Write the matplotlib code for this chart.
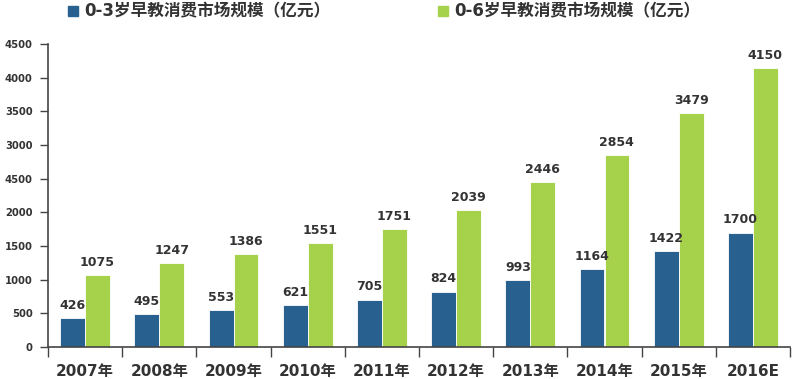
import matplotlib.pyplot as plt
from matplotlib.patches import Rectangle
import numpy as np

plt.rcParams['font.family'] = ['DejaVu Sans', 'Noto Sans CJK SC']

years = ['2007年', '2008年', '2009年', '2010年', '2011年', '2012年', '2013年', '2014年', '2015年', '2016E']
market_0_3 = [426, 495, 553, 621, 705, 824, 993, 1164, 1422, 1700]
market_0_6 = [1075, 1247, 1386, 1551, 1751, 2039, 2446, 2854, 3479, 4150]
yticks = [0, 500, 1000, 1500, 2000, 2500, 3000, 3500, 4000, 4500]
ytick_labels = ['0', '500', '1000', '1500', '2000', '4500', '3000', '3500', '4000', '4500']
series_names = ['0-3岁早教消费市场规模（亿元）', '0-6岁早教消费市场规模（亿元）']

blue = '#28618f'
green = '#a6d14b'
text_color = '#333333'

fig = plt.figure(figsize=(7.92, 3.79), dpi=100)
ax = fig.add_axes([48 / 792, 32 / 379, 742 / 792, 303 / 379])

x = np.arange(len(years))
w = 0.335
ax.bar(x - w / 2, market_0_3, width=w, color=blue, edgecolor='white', linewidth=0.6)
ax.bar(x + w / 2, market_0_6, width=w, color=green, edgecolor='white', linewidth=0.6)

for i in range(len(years)):
    ax.text(x[i] - w / 2, market_0_3[i] + 90, str(market_0_3[i]), ha='center', va='bottom',
            fontsize=9, fontweight='bold', color=text_color)
    ax.text(x[i] + w / 2, market_0_6[i] + 90, str(market_0_6[i]), ha='center', va='bottom',
            fontsize=9, fontweight='bold', color=text_color)

ax.set_xlim(-0.5, len(years) - 0.5)
ax.set_ylim(0, 4500)
ax.set_yticks(yticks)
ax.set_yticklabels(ytick_labels, fontsize=7.2, fontweight='bold', color=text_color)
ax.set_xticks(np.arange(-0.5, len(years), 1.0))
ax.set_xticklabels([])
ax.set_xticks(x, minor=True)
ax.set_xticklabels(years, minor=True, fontsize=11, fontweight='bold', color=text_color)
ax.tick_params(axis='x', which='major', length=7, color='#444444', width=1)
ax.tick_params(axis='x', which='minor', length=0, pad=12)
ax.tick_params(axis='y', length=6, color='#444444', width=1, pad=5)

for s in ['top', 'right']:
    ax.spines[s].set_visible(False)
ax.spines['left'].set_color('#444444')
ax.spines['bottom'].set_color('#444444')
ax.spines['left'].set_linewidth(1.2)
ax.spines['bottom'].set_linewidth(1.2)

# legend across the top
for lx, col, name in [(68, blue, series_names[0]), (438, green, series_names[1])]:
    fig.patches.append(Rectangle((lx / 792, 1 - 16 / 379), 10 / 792, 10 / 379,
                                 transform=fig.transFigure, color=col))
    fig.text((lx + 16) / 792, 1 - 11 / 379, name, ha='left', va='center',
             fontsize=12, fontweight='bold', color=text_color)

fig.savefig('out.png', dpi=100)
